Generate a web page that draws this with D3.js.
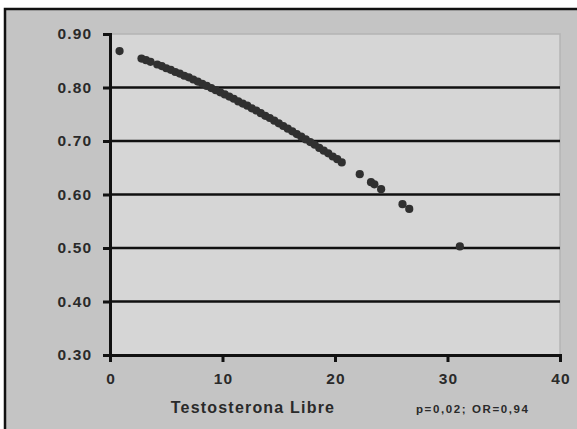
<!DOCTYPE html>
<html>
<head>
<meta charset="utf-8">
<script src="https://cdn.jsdelivr.net/npm/d3@7"></script>
<style>
  body { margin: 0; background: #fff; }
  text { font-family: "Liberation Sans", Arial, sans-serif; font-weight: bold; fill: #2a2a2a; }
</style>
</head>
<body>
<svg id="chart" width="577" height="429"></svg>
<script>
// --- Datos ---
const testoLibre = [0.85, 2.8, 3.2, 3.6, 4.2, 4.6, 5.0, 5.4, 5.8, 6.2, 6.6, 7.0, 7.4, 7.8,
  8.2, 8.6, 9.0, 9.4, 9.8, 10.2, 10.6, 11.0, 11.4, 11.8, 12.2, 12.6, 13.0, 13.4, 13.8,
  14.2, 14.6, 15.0, 15.4, 15.8, 16.2, 16.6, 17.0, 17.4, 17.8, 18.2, 18.6, 19.0, 19.4,
  19.8, 20.2, 20.6, 22.2, 23.2, 23.5, 24.1, 26.0, 26.6, 31.1];
const probabilidad = [0.868, 0.854, 0.851, 0.848, 0.843, 0.840, 0.836, 0.833, 0.829, 0.826,
  0.822, 0.819, 0.815, 0.811, 0.807, 0.803, 0.799, 0.795, 0.791, 0.787, 0.783, 0.779,
  0.774, 0.770, 0.766, 0.761, 0.757, 0.752, 0.747, 0.743, 0.738, 0.733, 0.728, 0.723,
  0.718, 0.713, 0.708, 0.703, 0.698, 0.693, 0.687, 0.682, 0.677, 0.671, 0.666, 0.660,
  0.638, 0.623, 0.619, 0.610, 0.582, 0.573, 0.503];
const yTicks = [0.30, 0.40, 0.50, 0.60, 0.70, 0.80, 0.90];
const xTicks = [0, 10, 20, 30, 40];
const tituloX = "Testosterona Libre";
const nota = "p=0,02; OR=0,94";

const puntos = testoLibre.map((v, i) => ({x: v, y: probabilidad[i]}));

const svg = d3.select("#chart"),
      margin = {top: 34, right: 17, bottom: 74, left: 110},
      width = +svg.attr("width") - margin.left - margin.right,
      height = +svg.attr("height") - margin.top - margin.bottom;

// fondo exterior y borde
svg.append("rect").attr("x", 5).attr("y", 9).attr("width", 572).attr("height", 420)
   .attr("fill", "#c4c4c4");
svg.append("path").attr("d", "M5,429V9H577")
   .attr("fill", "none").attr("stroke", "#111").attr("stroke-width", 2.5);

const g = svg.append("g").attr("transform", `translate(${margin.left},${margin.top})`);

const x = d3.scaleLinear().domain([0, 40]).range([0, width]);
const y = d3.scaleLinear().domain([0.30, 0.90]).range([height, 0]);

// área de trazado
g.append("rect").attr("width", width).attr("height", height)
 .attr("fill", "#d6d6d6").attr("stroke", "#b4b4b4").attr("stroke-width", 1.5);

// líneas de división
g.selectAll("line.grid")
  .data(yTicks.filter(t => t > 0.3 && t < 0.9))
  .enter().append("line")
    .attr("class", "grid")
    .attr("x1", 0).attr("x2", width)
    .attr("y1", d => y(d)).attr("y2", d => y(d))
    .attr("stroke", "#111").attr("stroke-width", 2.5);

// ejes
const ejeY = g.append("g")
  .call(d3.axisLeft(y).tickValues(yTicks).tickFormat(d3.format(".2f")).tickSize(7).tickPadding(12));
const ejeX = g.append("g").attr("transform", `translate(0,${height})`)
  .call(d3.axisBottom(x).tickValues(xTicks).tickSize(7).tickPadding(11));

[ejeY, ejeX].forEach(e => {
  e.select(".domain").attr("stroke", "#111").attr("stroke-width", 3);
  e.selectAll(".tick line").attr("stroke", "#111").attr("stroke-width", 3);
  e.selectAll("text")
   .style("font-size", "15.5px")
   .style("letter-spacing", "1.1px")
   .style("fill", "#2a2a2a");
});
ejeY.selectAll("text").attr("dx", "1.1px");
ejeX.selectAll("text").attr("dx", "0.55px");

// puntos
g.selectAll("circle")
  .data(puntos)
  .enter().append("circle")
    .attr("cx", d => x(d.x))
    .attr("cy", d => y(d.y))
    .attr("r", 4.1)
    .attr("fill", "#303030");

// títulos
svg.append("text")
   .attr("x", 253).attr("y", 413)
   .attr("text-anchor", "middle")
   .style("font-size", "16px")
   .style("letter-spacing", "1.2px")
   .text(tituloX);

svg.append("text")
   .attr("x", 416).attr("y", 413)
   .style("font-size", "11.5px")
   .style("letter-spacing", "1.6px")
   .text(nota);
</script>
</body>
</html>
